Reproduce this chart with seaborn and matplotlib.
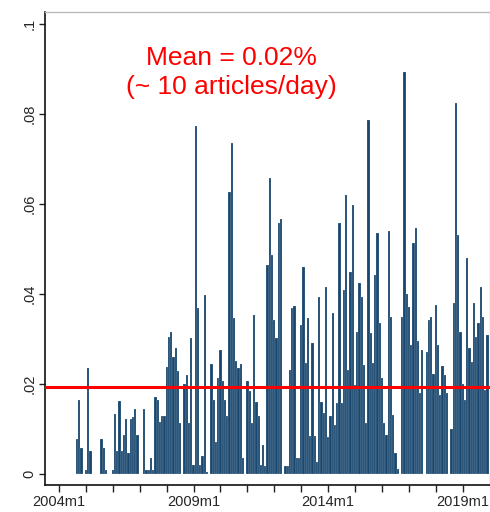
import numpy as np
import pandas as pd
import matplotlib
matplotlib.use('Agg')
import matplotlib.pyplot as plt
import seaborn as sns

# monthly share of articles, 2004m1 .. 2019m12 (one row per year)
share = [
    0, 0, 0, 0, 0, 0, 0, 0, 0.0078, 0.0164, 0.0058, 0,
    0.001, 0.0235, 0.0052, 0, 0, 0, 0, 0.0078, 0.0057, 0.001, 0, 0,
    0.001, 0.0133, 0.0052, 0.0162, 0.0052, 0.0087, 0.0123, 0.0046, 0.0123, 0.0126, 0.0145, 0.0087,
    0, 0, 0.0145, 0.001, 0.001, 0.0036, 0.001, 0.0172, 0.0165, 0.0115, 0.013, 0.013,
    0.0238, 0.0305, 0.0316, 0.026, 0.028, 0.0228, 0.0113, 0, 0.02, 0.022, 0.0113, 0.0302,
    0.002, 0.0773, 0.0368, 0.0019, 0.004, 0.0397, 0.0005, 0, 0.0244, 0.0164, 0.0072, 0.0213,
    0.0276, 0.0207, 0.0164, 0.013, 0.0627, 0.0735, 0.0347, 0.0251, 0.0236, 0.0244, 0.0036, 0,
    0.0206, 0.0184, 0.0113, 0.0354, 0.016, 0.013, 0.002, 0.0064, 0.0018, 0.0464, 0.0657, 0.0487,
    0.0342, 0.0302, 0.0557, 0.0566, 0, 0.0018, 0.0018, 0.0231, 0.0368, 0.0373, 0.0036, 0.0036,
    0.0331, 0.0461, 0.0246, 0.0347, 0.0085, 0.0291, 0.0085, 0.0027, 0.0394, 0.016, 0.0135, 0.0416,
    0.0083, 0.013, 0.0357, 0.011, 0.0157, 0.0557, 0.0157, 0.0409, 0.062, 0.0231, 0.0449, 0.0598,
    0.0198, 0.0316, 0.0424, 0.0394, 0.0242, 0.0113, 0.0787, 0.0313, 0.0246, 0.0442, 0.0535, 0.0335,
    0.0213, 0.0113, 0.0087, 0.0539, 0.035, 0.0132, 0.0046, 0.0012, 0, 0.035, 0.0894, 0.0401,
    0.0372, 0.0287, 0.0513, 0.0546, 0.0296, 0.0179, 0.0276, 0, 0.0272, 0.0343, 0.035, 0.0222,
    0.0376, 0.0287, 0.0176, 0.0239, 0.022, 0.0179, 0, 0.0101, 0.038, 0.0824, 0.0531, 0.0316,
    0.0201, 0.0164, 0.048, 0.0279, 0.025, 0.038, 0.0305, 0.0335, 0.0416, 0.035, 0.0187, 0.031,
]
months = pd.period_range('2004-01', '2019-12', freq='M')
mean_level = 0.0194
labelled_years = [2004, 2009, 2014, 2019]
y_ticks = [0, 0.02, 0.04, 0.06, 0.08, 0.1]
y_labels = ['0', '.02', '.04', '.06', '.08', '.1']

sns.set_style('white')
plt.rcParams['font.family'] = ['Liberation Sans', 'DejaVu Sans']

df = pd.DataFrame({'t': np.arange(len(months)), 'share': share})

fig = plt.figure(figsize=(4.9, 5.12), dpi=100)
ax = fig.add_axes([45 / 490, 27 / 512, 445 / 490, 473 / 512])

sns.barplot(data=df, x='t', y='share', native_scale=True, width=1,
            color='#1a476f', saturation=1, edgecolor='white', linewidth=0.12,
            errorbar=None, ax=ax)

# mean line
ax.axhline(mean_level, color='#ff0000', lw=2.2, zorder=5)

ax.text(0.419, 0.872, 'Mean = 0.02%\n(~ 10 articles/day)', transform=ax.transAxes,
        ha='center', va='center', color='#ff0000', fontsize=19, linespacing=1.3)

ax.set_xlim(-6.24, 192.15)
ax.set_ylim(-0.00244, 0.10267)

jan = [i for i, p in enumerate(months) if p.month == 1]
ax.set_xticks(jan)
ax.set_xticklabels([f'{months[i].year}m1' if months[i].year in labelled_years else ''
                    for i in jan], fontsize=10.5)
ax.set_yticks(y_ticks)
ax.set_yticklabels(y_labels, rotation=90, va='center', fontsize=10.5)
ax.tick_params(axis='x', length=5, width=1, color='#222222', pad=2, direction='out', bottom=True)
ax.tick_params(axis='y', length=4, width=1, color='#222222', pad=2, direction='out', left=True)
ax.set_xlabel('')
ax.set_ylabel('')

for side in ['left', 'bottom']:
    ax.spines[side].set_color('#111111')
    ax.spines[side].set_linewidth(1.2)
for side in ['top', 'right']:
    ax.spines[side].set_color('#bbbbbb')
    ax.spines[side].set_linewidth(1)

fig.savefig('out.png', dpi=100)
